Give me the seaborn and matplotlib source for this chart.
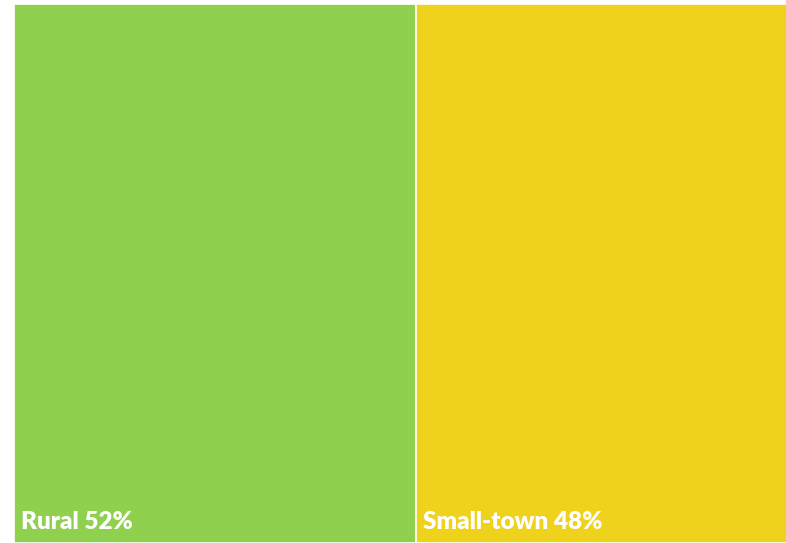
import matplotlib
matplotlib.use("AGG")
import matplotlib.pyplot as plt
import seaborn as sns
import numpy as np

# treemap of two categories
categories = ['Rural', 'Small-town']
shares = [52, 48]
colors = ['#90D04F', '#EED21B']

sns.set_theme(style='white')
plt.rcParams['font.family'] = ['Lato', 'DejaVu Sans']

fig = plt.figure(figsize=(7.86, 5.43), dpi=100)
ax = fig.add_axes([14/786, 0.0, 1 - 14/786, 1 - 4/543])

lefts = np.concatenate([[0], np.cumsum(shares)[:-1]])
ax.barh([0.5]*len(shares), shares, left=lefts, height=1.0, color=colors,
        edgecolor='white', linewidth=1.2)

for cat, val, left in zip(categories, shares, lefts):
    ax.annotate(f'{cat} {val}%', xy=(left, 0), xytext=(5, 7),
                textcoords='offset points', color='white', fontsize=17.5,
                fontweight='heavy', ha='left', va='bottom')

# clip the outer white edge on the right
ax.set_xlim(0, sum(shares) - 0.15)
ax.set_ylim(0, 1)
ax.axis('off')

plt.savefig('out.png', dpi=100)
